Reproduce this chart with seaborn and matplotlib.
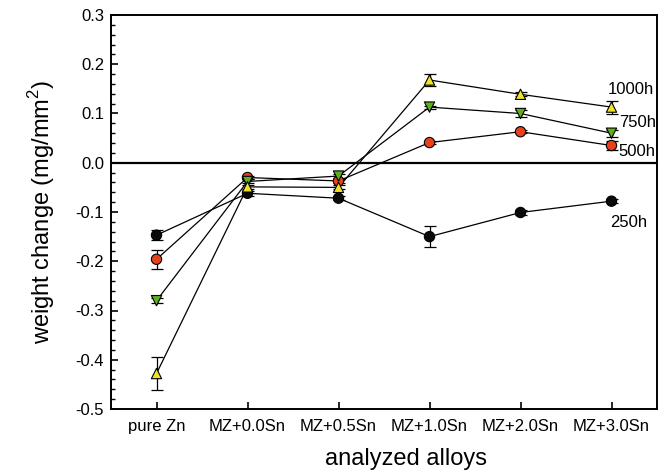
import numpy as np
import pandas as pd
import matplotlib
matplotlib.use("Agg")
import matplotlib.pyplot as plt
from matplotlib.ticker import MultipleLocator
import seaborn as sns

# Alloys on the x axis
alloys = ["pure Zn", "MZ+0.0Sn", "MZ+0.5Sn", "MZ+1.0Sn", "MZ+2.0Sn", "MZ+3.0Sn"]

# Exposure times (series)
series = ["250h", "500h", "750h", "1000h"]

# Weight change (mg/mm^2) per exposure time
w_250 = [-0.147, -0.062, -0.072, -0.150, -0.101, -0.078]
w_500 = [-0.196, -0.030, -0.037, 0.041, 0.063, 0.035]
w_750 = [-0.280, -0.038, -0.027, 0.113, 0.100, 0.060]
w_1000 = [-0.428, -0.049, -0.050, 0.168, 0.139, 0.113]

# Standard deviations
e_250 = [0.010, 0.005, 0.004, 0.021, 0.005, 0.004]
e_500 = [0.019, 0.004, 0.004, 0.003, 0.003, 0.010]
e_750 = [0.005, 0.004, 0.004, 0.003, 0.007, 0.007]
e_1000 = [0.034, 0.004, 0.004, 0.012, 0.004, 0.013]

# End-of-line labels: position (x, y) in data units
label_x = [4.99, 5.08, 5.08, 4.96]
label_y = [-0.122, 0.022, 0.081, 0.148]

values = [w_250, w_500, w_750, w_1000]
errors = [e_250, e_500, e_750, e_1000]

colors = {"250h": "#0a0a0a", "500h": "#e8421d", "750h": "#5fae1f", "1000h": "#f0e22c"}
markers = {"250h": "o", "500h": "o", "750h": "v", "1000h": "^"}

rows = []
for s, vals in zip(series, values):
    for i, v in enumerate(vals):
        rows.append({"pos": i, "alloy": alloys[i], "time": s, "weight": v})
df = pd.DataFrame(rows)

sns.set_theme(style="white")
plt.rcParams["font.family"] = ["Liberation Sans", "DejaVu Sans"]
plt.rcParams["mathtext.fontset"] = "custom"
plt.rcParams["mathtext.rm"] = "Liberation Sans"
plt.rcParams["text.color"] = "black"
plt.rcParams["axes.labelcolor"] = "black"
plt.rcParams["xtick.color"] = "black"
plt.rcParams["ytick.color"] = "black"

fig = plt.figure(figsize=(6.59, 4.74), dpi=100)
ax = fig.add_axes([111 / 659, 1 - 409 / 474, (657 - 111) / 659, (409 - 15) / 474])

ax.axhline(0, color="black", lw=1.6, zorder=1)

# Connecting lines (black for every exposure time)
sns.lineplot(data=df, x="pos", y="weight", units="time", estimator=None,
             color="black", linewidth=0.9, sort=False, legend=False, ax=ax, zorder=2)

for k, s in enumerate(series):
    sub = df[df["time"] == s]
    ax.errorbar(sub["pos"], sub["weight"], yerr=errors[k], fmt="none",
                ecolor="black", elinewidth=0.9, capsize=4, capthick=0.9, zorder=3)

sns.scatterplot(data=df, x="pos", y="weight", hue="time", style="time",
                hue_order=series, style_order=series, palette=colors,
                markers=markers, s=55, edgecolor="black", linewidth=0.8,
                legend=False, ax=ax, zorder=4)

for s, lx, ly in zip(series, label_x, label_y):
    ax.text(lx, ly, s, fontsize=12, va="center", ha="left", clip_on=False)

ax.set_xlim(-0.5, 5.5)
ax.set_ylim(-0.5, 0.3)
ax.set_xticks(range(len(alloys)))
ax.set_xticklabels(alloys, fontsize=12)
ax.yaxis.set_major_locator(MultipleLocator(0.1))
ax.yaxis.set_minor_locator(MultipleLocator(0.02))
ax.set_yticklabels([f"{t:.1f}" for t in ax.get_yticks()], fontsize=12)
ax.tick_params(axis="both", which="major", direction="in", length=5, width=1.2,
               colors="black", left=True, bottom=True)
ax.tick_params(axis="y", which="minor", direction="in", length=3, width=1.0, left=True)
ax.tick_params(axis="x", pad=7)
ax.tick_params(axis="y", pad=5)

for sp in ax.spines.values():
    sp.set_color("black")
    sp.set_linewidth(1.4)

ax.set_xlabel("analyzed alloys", fontsize=17)
ax.set_ylabel("weight change (mg/mm$^2$)", fontsize=17)
ax.xaxis.set_label_coords(0.54, -0.1)
ax.yaxis.set_label_coords(-0.098, 0.5)

fig.savefig("out.png", dpi=100)
